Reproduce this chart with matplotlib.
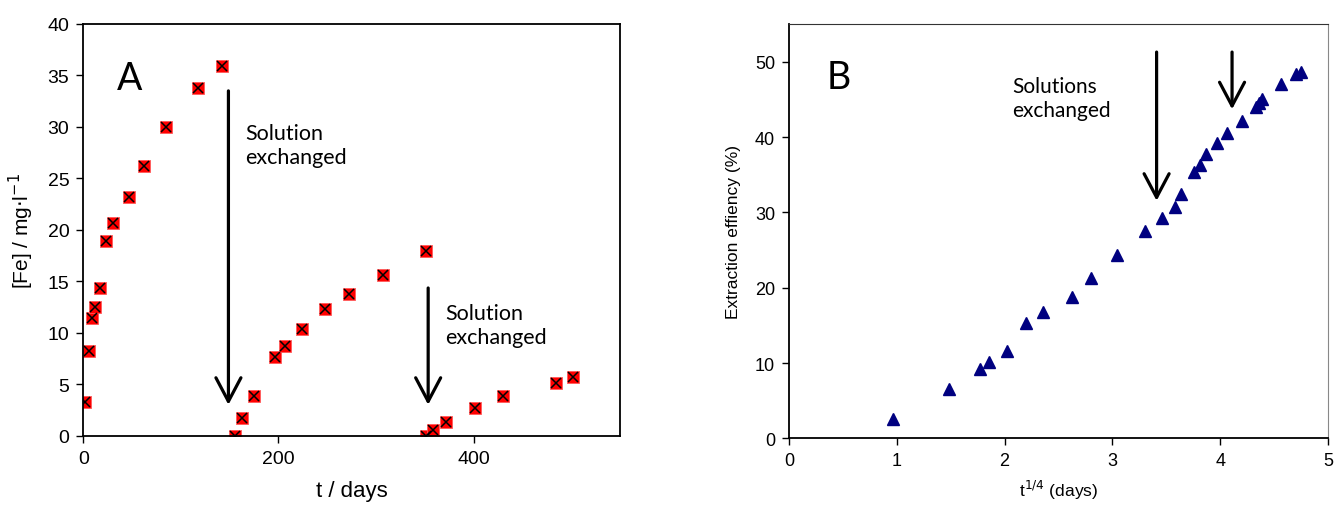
import matplotlib
matplotlib.use("Agg")
import matplotlib.pyplot as plt

# Panel A: [Fe] vs time
days_a = [1.7, 5.5, 9.2, 12.3, 17.1, 23.5, 30.4, 46.8, 61.8, 84.6, 117.7, 142.3,
          156.0, 162.6, 174.5, 196.5, 207.2, 223.8, 247.4, 272.3, 307.1, 351.5,
          350.8, 358.3, 372.0, 401.3, 430.6, 484.2, 502.0]
fe_a = [3.25, 8.23, 11.44, 12.54, 14.38, 18.9, 20.67, 23.2, 26.2, 30.0, 33.8, 35.9,
        0.0, 1.75, 3.86, 7.68, 8.75, 10.37, 12.31, 13.77, 15.62, 17.92,
        0.0, 0.55, 1.36, 2.72, 3.83, 5.15, 5.67]

# Panel B: extraction efficiency vs t^1/4
t14_b = [0.968, 1.484, 1.775, 1.858, 2.025, 2.20, 2.356, 2.625, 2.80, 3.04,
         3.30, 3.46, 3.58, 3.64, 3.76, 3.81, 3.87, 3.97, 4.06, 4.20,
         4.33, 4.36, 4.39, 4.56, 4.70, 4.75]
eff_b = [2.52, 6.55, 9.2, 10.1, 11.6, 15.3, 16.8, 18.8, 21.3, 24.3,
         27.5, 29.2, 30.7, 32.4, 35.4, 36.3, 37.8, 39.2, 40.5, 42.1,
         44.0, 44.5, 45.1, 47.1, 48.4, 48.6]

# arrows: (x, y_start, y_tip)
arrows_a = [(148.8, 33.5, 3.0), (353.5, 14.35, 3.0)]
arrows_b = [(3.41, 51.3, 31.55), (4.11, 51.3, 43.7)]

TICK_FONT = "Liberation Sans"
NOTE_FONT = "Lato"

fig = plt.figure(figsize=(13.36, 5.06), dpi=100)
ax_a = fig.add_axes([0.0623, 0.137, 0.4017, 0.8136])
ax_b = fig.add_axes([0.5906, 0.1318, 0.4034, 0.8184])

arrow_kw = dict(arrowstyle="->,head_length=0.85,head_width=0.45", lw=2.3,
                color="black", mutation_scale=20, shrinkA=0, shrinkB=0)

# ---- panel A ----
ax_a.plot(days_a, fe_a, linestyle="none", marker="s", ms=8.5,
          mfc="#ff0000", mec="#ff5a5a", mew=0.6)
ax_a.plot(days_a, fe_a, linestyle="none", marker="x", ms=7,
          color="black", mew=1.1)
ax_a.set_xlim(0, 550)
ax_a.set_ylim(0, 40)
ax_a.set_xticks([0, 200, 400])
ax_a.set_yticks(range(0, 41, 5))
ax_a.tick_params(direction="out", length=5, width=1, labelsize=14, pad=5)
for lab in ax_a.get_xticklabels() + ax_a.get_yticklabels():
    lab.set_family(TICK_FONT)
for sp in ax_a.spines.values():
    sp.set_linewidth(1.3)
ax_a.set_xlabel("t / days", fontsize=16, family=TICK_FONT, labelpad=10)
ax_a.set_ylabel("[Fe] / mg$\\cdot$l$^{-1}$", fontsize=15, family=TICK_FONT, labelpad=8)
ax_a.text(47.8, 34.8, "A", fontsize=27, family=NOTE_FONT, ha="center", va="center")
for x, y0, y1 in arrows_a:
    ax_a.annotate("", xy=(x, y1), xytext=(x, y0), arrowprops=arrow_kw)
ax_a.text(165.8, 28.2, "Solution\nexchanged", fontsize=15.5, family=NOTE_FONT,
          ha="left", va="center", linespacing=1.25)
ax_a.text(371, 10.8, "Solution\nexchanged", fontsize=15.5, family=NOTE_FONT,
          ha="left", va="center", linespacing=1.25)

# ---- panel B ----
ax_b.plot(t14_b, eff_b, linestyle="none", marker="^", ms=8.5,
          mfc="#000080", mec="#000080")
ax_b.set_xlim(0, 5)
ax_b.set_ylim(0, 55)
ax_b.set_xticks(range(0, 6))
ax_b.set_yticks(range(0, 51, 10))
ax_b.tick_params(direction="out", length=5, width=1, labelsize=13, pad=5)
for lab in ax_b.get_xticklabels() + ax_b.get_yticklabels():
    lab.set_family(TICK_FONT)
ax_b.spines["left"].set_linewidth(1.3)
ax_b.spines["bottom"].set_linewidth(1.3)
ax_b.spines["top"].set_color("#333333")
ax_b.spines["right"].set_color("#888888")
ax_b.set_xlabel("t$^{1/4}$ (days)", fontsize=12.5, family=TICK_FONT, labelpad=6)
ax_b.set_ylabel("Extraction effiency (%)", fontsize=12.5, family=TICK_FONT, labelpad=10)
ax_b.text(0.46, 48.0, "B", fontsize=27, family=NOTE_FONT, ha="center", va="center")
for x, y0, y1 in arrows_b:
    ax_b.annotate("", xy=(x, y1), xytext=(x, y0), arrowprops=arrow_kw)
ax_b.text(2.07, 45.2, "Solutions\nexchanged", fontsize=15, family=NOTE_FONT,
          ha="left", va="center", linespacing=1.25)

fig.savefig("out.png", dpi=100)
